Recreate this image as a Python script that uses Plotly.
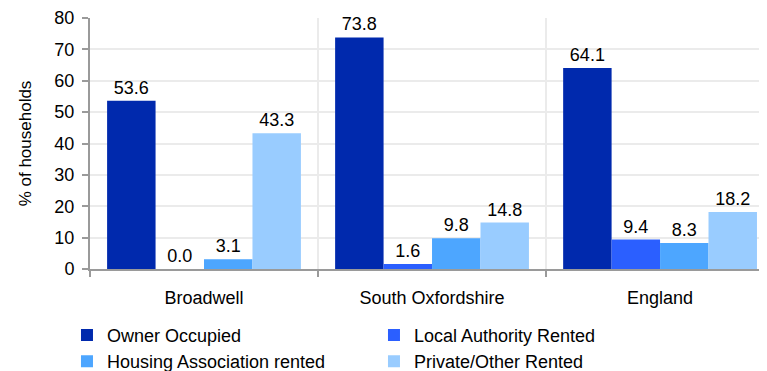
import plotly.graph_objects as go

categories = ["Broadwell", "South Oxfordshire", "England"]
series_names = ["Owner Occupied", "Local Authority Rented", "Housing Association rented", "Private/Other Rented"]
owner = [53.6, 73.8, 64.1]
local_auth = [0.0, 1.6, 9.4]
housing_assoc = [3.1, 9.8, 8.3]
private_other = [43.3, 14.8, 18.2]
colors = ["#0029AD", "#2B5FFF", "#4DA6FF", "#99CCFF"]

fig = go.Figure()
for name, vals, col in zip(series_names, [owner, local_auth, housing_assoc, private_other], colors):
    fig.add_trace(go.Bar(
        name=name, x=categories, y=vals, marker_color=col, marker_line_width=0,
        text=[f"{v:.1f}" for v in vals], textposition="outside", cliponaxis=False,
        textfont=dict(size=18, color="#000"),
    ))

fig.update_layout(
    width=759, height=363,
    margin=dict(l=82, r=0, t=10, b=102, autoexpand=False),
    barmode="group", bargap=0.15, bargroupgap=0,
    plot_bgcolor="white", paper_bgcolor="white",
    font=dict(family="Liberation Sans, Arial, sans-serif", size=18, color="#000"),
    showlegend=True,
    legend=dict(orientation="h", x=-0.034, y=-0.19, xanchor="left", yanchor="top",
                entrywidth=262, entrywidthmode="pixels", font=dict(size=18),
                itemwidth=30, traceorder="normal"),
)
fig.update_yaxes(range=[0, 80], dtick=10, showgrid=True, gridcolor="#EBEBEB", gridwidth=1.5,
                 showline=True, linecolor="#9A9A9A", linewidth=2, ticks="outside", ticklen=6,
                 tickcolor="#9A9A9A", tickwidth=2, ticklabelstandoff=4,
                 title=dict(text="% of households", font=dict(size=17), standoff=18),
                 zeroline=False, tickfont=dict(size=18))
fig.update_xaxes(range=[-0.5, 2.469], showline=True, linecolor="#9A9A9A", linewidth=2,
                 ticks="outside", tickson="boundaries", ticklen=6, tickcolor="#9A9A9A", tickwidth=2,
                 showgrid=True, gridcolor="#EBEBEB", gridwidth=1.5,
                 tickfont=dict(size=18), ticklabelstandoff=11)
fig.write_html("out.html")
